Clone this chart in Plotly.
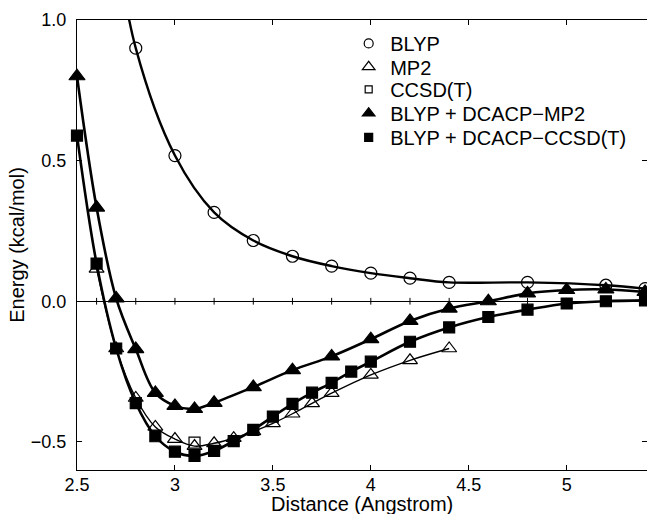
import plotly.graph_objects as go

# ---------------- data ----------------
blyp_x = [2.7, 2.8, 3.0, 3.2, 3.4, 3.6, 3.8, 4.0, 4.2, 4.4, 4.8, 5.2, 5.4]
blyp_y = [1.28, 0.90, 0.518, 0.316, 0.216, 0.160, 0.125, 0.100, 0.082, 0.067, 0.067, 0.057, 0.045]

mp2_x = [2.6, 2.7, 2.8, 2.9, 3.0, 3.1, 3.2, 3.3, 3.4, 3.5, 3.6, 3.7, 3.8, 4.0, 4.2, 4.4]
mp2_y = [0.115, -0.168, -0.344, -0.447, -0.490, -0.515, -0.505, -0.487, -0.463, -0.434,
         -0.400, -0.363, -0.327, -0.262, -0.210, -0.168]

ccsdt_x = [3.1]
ccsdt_y = [-0.503]

dmp2_x = [2.5, 2.6, 2.7, 2.8, 2.9, 3.0, 3.1, 3.2, 3.4, 3.6, 3.8, 4.0, 4.2, 4.4, 4.6, 4.8, 5.0, 5.2, 5.4]
dmp2_y = [0.800, 0.333, 0.010, -0.170, -0.326, -0.372, -0.383, -0.361, -0.305, -0.245,
          -0.196, -0.135, -0.070, -0.026, 0.000, 0.028, 0.040, 0.042, 0.033]

dcc_x = [2.5, 2.6, 2.7, 2.8, 2.9, 3.0, 3.1, 3.2, 3.3, 3.4, 3.5, 3.6, 3.7, 3.8, 3.9, 4.0,
         4.2, 4.4, 4.6, 4.8, 5.0, 5.2, 5.4]
dcc_y = [0.589, 0.134, -0.168, -0.362, -0.480, -0.535, -0.550, -0.532, -0.497, -0.457,
         -0.410, -0.365, -0.325, -0.290, -0.250, -0.215, -0.144, -0.093, -0.056, -0.030,
         -0.008, 0.000, 0.003]

series_names = ["BLYP", "MP2", "CCSD(T)", "BLYP + DCACP\u2212MP2", "BLYP + DCACP\u2212CCSD(T)"]

x_tickvals = [2.5, 3, 3.5, 4, 4.5, 5]
x_ticktext = ["2.5", "3", "3.5", "4", "4.5", "5"]
y_tickvals = [-0.5, 0.0, 0.5, 1.0]
y_ticktext = ["\u22120.5", "0.0", "0.5", "1.0"]
zero_ticks = [2.6, 2.8, 3.0, 3.2, 3.4, 3.6, 3.8, 4.0, 4.2, 4.4, 4.6, 4.8, 5.0, 5.2, 5.4]

x_title = "Distance (Angstrom)"
y_title = "Energy (kcal/mol)"

# ---------------- styling ----------------
FONT = "Liberation Sans, Arial, Helvetica, sans-serif"
BLACK = "black"

# (x, y, symbol, plot size, legend size, draw line, clip markers)
series = [
    (blyp_x, blyp_y, "circle-open", 12, 9, True, True),
    (mp2_x, mp2_y, "triangle-up-open", 13, 11, True, False),
    (ccsdt_x, ccsdt_y, "square-open", 11, 7, False, False),
    (dmp2_x, dmp2_y, "triangle-up", 14, 11, True, False),
    (dcc_x, dcc_y, "square", 11, 8, True, False),
]
line_widths = [2.4, 1.4, 0, 2.6, 2.6]

legend_rows_y = [0.948, 0.896, 0.846, 0.793, 0.739]
legend_x = 0.474

fig = go.Figure()

for i, ((xs, ys, sym, msize, lsize, has_line, clip), name) in enumerate(zip(series, series_names)):
    if has_line:
        fig.add_trace(go.Scatter(
            x=xs, y=ys, mode="lines",
            line=dict(color=BLACK, width=line_widths[i], shape="spline", smoothing=1.0),
            showlegend=False, hoverinfo="skip",
        ))
    fig.add_trace(go.Scatter(
        x=xs, y=ys, mode="markers", name=name,
        marker=dict(symbol=sym, size=msize, color=BLACK,
                    line=dict(color=BLACK, width=1.2)),
        showlegend=False, cliponaxis=clip,
    ))

# legend entries (one legend per row to match the compact row spacing)
for i, ((xs, ys, sym, msize, lsize, has_line, clip), name) in enumerate(zip(series, series_names)):
    lg = "legend" if i == 0 else f"legend{i+1}"
    fig.add_trace(go.Scatter(
        x=[None], y=[None], mode="markers", name=name,
        marker=dict(symbol=sym, size=lsize, color=BLACK, line=dict(color=BLACK, width=1.2)),
        legend=lg, showlegend=True,
    ))

legend_common = dict(
    xanchor="left", yanchor="middle", x=legend_x,
    bgcolor="rgba(0,0,0,0)", borderwidth=0,
    font=dict(family=FONT, size=20, color=BLACK),
    itemwidth=33,
)
layout_legends = {}
for i, yv in enumerate(legend_rows_y):
    key = "legend" if i == 0 else f"legend{i+1}"
    layout_legends[key] = dict(legend_common, y=yv)

# crossing tick marks on the zero line
shapes = [
    dict(type="line", xref="x", yref="y", x0=t, x1=t, y0=-0.012, y1=0.012,
         line=dict(color=BLACK, width=1))
    for t in zero_ticks
]

fig.update_layout(
    width=647, height=514,
    margin=dict(l=77, r=0, t=20, b=44, pad=0),
    paper_bgcolor="white", plot_bgcolor="white",
    font=dict(family=FONT, color=BLACK),
    shapes=shapes,
    annotations=[dict(
        text=x_title, xref="paper", yref="paper", x=0.5, y=-0.076,
        xanchor="center", yanchor="middle", showarrow=False,
        font=dict(family=FONT, size=20, color=BLACK),
    )],
    **layout_legends,
)

fig.update_xaxes(
    range=[2.5, 5.41], tickvals=x_tickvals, ticktext=x_ticktext,
    showgrid=False, zeroline=False,
    showline=True, linecolor=BLACK, linewidth=1, mirror="ticks",
    ticks="inside", ticklen=5, tickcolor=BLACK, tickwidth=1,
    tickfont=dict(family=FONT, size=18, color=BLACK),
    ticklabelstandoff=-2,
    automargin=False,
)
fig.update_yaxes(
    range=[-0.6, 1.0], tickvals=y_tickvals, ticktext=y_ticktext,
    showgrid=False, zeroline=True, zerolinecolor=BLACK, zerolinewidth=1,
    showline=True, linecolor=BLACK, linewidth=1, mirror="ticks",
    ticks="inside", ticklen=5, tickcolor=BLACK, tickwidth=1,
    tickfont=dict(family=FONT, size=18, color=BLACK),
    ticklabelstandoff=6,
    title=dict(text=y_title, font=dict(family=FONT, size=20, color=BLACK), standoff=0),
    automargin=False,
)

fig.write_html("out.html")
